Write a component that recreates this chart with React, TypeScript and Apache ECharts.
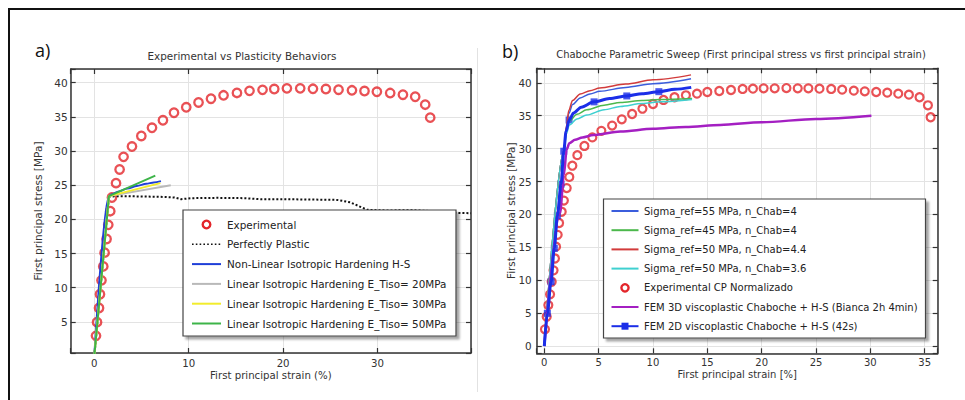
import React, { useEffect, useRef } from 'react';
import * as echarts from 'echarts';

const FONT = '"DejaVu Sans", Verdana, sans-serif';
const INK = '#333333';
const GRIDLINE = '#e3e3e3';
const RED = '#e3262b';

// ---------- Panel a data ----------
const titleA = 'Experimental vs Plasticity Behaviors';
const xNameA = 'First principal strain (%)';
const yNameA = 'First principal stress [MPa]';
const namesA = [
  'Experimental',
  'Perfectly Plastic',
  'Non-Linear Isotropic Hardening H-S',
  'Linear Isotropic Hardening E_Tiso= 20MPa',
  'Linear Isotropic Hardening E_Tiso= 30MPa',
  'Linear Isotropic Hardening E_Tiso= 50MPa',
];
const experimentalA: [number, number][] = [
  [0.18, 2.96], [0.29, 4.96], [0.5, 7.04], [0.6, 9.04], [0.76, 11.08], [0.95, 13.12],
  [1.09, 15.13], [1.3, 17.13], [1.48, 19.2], [1.69, 21.2], [1.87, 23.2], [2.3, 25.3],
  [2.68, 27.3], [3.1, 29.15], [3.99, 30.66], [4.98, 32.2], [6.11, 33.4], [7.27, 34.5],
  [8.44, 35.6], [9.74, 36.4], [11.04, 37.1], [12.36, 37.65], [13.69, 38.15], [15.11, 38.5],
  [16.44, 38.8], [17.82, 38.95], [19.06, 39.07], [20.4, 39.17], [21.81, 39.17], [23.16, 39.1],
  [24.53, 39.07], [25.87, 38.97], [27.29, 38.88], [28.62, 38.78], [29.93, 38.67], [31.34, 38.48],
  [32.69, 38.24], [33.99, 37.94], [35.05, 36.78], [35.58, 34.88],
];
const perfectlyPlastic: [number, number][] = [
  [0, 0], [1.55, 23.35], [3, 23.4], [5, 23.35], [7, 23.3], [8.5, 23.2], [9.2, 22.95],
  [10.2, 23.1], [13, 23.15], [16, 23.1], [17.6, 22.95], [20, 22.95], [23, 22.9], [25.7, 22.85],
  [27.1, 22.5], [28.9, 21.4], [31, 21.3], [33.5, 21.35], [36, 21.2], [38.4, 20.95], [39.9, 20.9],
];
const nonLinearHS: [number, number][] = [
  [0, 0], [1.5, 23.2], [1.8, 23.65], [2.5, 24.05], [3.5, 24.5], [4.5, 24.9], [5.5, 25.2], [6.3, 25.4], [7.06, 25.6],
];
const linear20: [number, number][] = [[0, 0], [1.55, 23.4], [8.1, 25.0]];
const linear30: [number, number][] = [[0, 0], [1.55, 23.4], [7.0, 25.3]];
const linear50: [number, number][] = [[0, 0], [1.55, 23.4], [6.46, 26.4]];

// ---------- Panel b data ----------
const titleB = 'Chaboche Parametric Sweep (First principal stress vs first principal strain)';
const xNameB = 'First principal strain [%]';
const yNameB = 'First principal stress [MPa]';
const namesB = [
  'Sigma_ref=55 MPa, n_Chab=4',
  'Sigma_ref=45 MPa, n_Chab=4',
  'Sigma_ref=50 MPa, n_Chab=4.4',
  'Sigma_ref=50 MPa, n_Chab=3.6',
  'Experimental CP Normalizado',
  'FEM 3D viscoplastic Chaboche + H-S (Bianca 2h 4min)',
  'FEM 2D viscoplastic Chaboche + H-S (42s)',
];
const sigma55n4: [number, number][] = [
  [0, 0], [1.8, 29.6], [2.05, 33.3], [2.25, 35.3], [2.6, 36.7], [3.3, 37.7], [4.2, 38.3],
  [5.1, 38.7], [7.5, 39.3], [10, 39.85], [13.5, 40.6],
];
const sigma45n4: [number, number][] = [
  [0, 0], [1.8, 29.6], [2.05, 32.8], [2.3, 34.2], [3, 35.2], [3.9, 35.9], [5.5, 36.6],
  [7, 37.0], [9, 37.3], [10.7, 37.45], [13.6, 37.6],
];
const sigma50n44: [number, number][] = [
  [0, 0], [1.8, 29.6], [2.05, 33.6], [2.25, 35.8], [2.6, 37.3], [3.3, 38.3], [4.2, 38.8],
  [5.1, 39.2], [7.5, 39.8], [10, 40.45], [13.5, 41.2],
];
const sigma50n36: [number, number][] = [
  [0, 0], [1.8, 29.6], [2.05, 32.3], [2.3, 33.6], [3, 34.5], [3.9, 35.1], [5.5, 35.9],
  [7, 36.4], [9, 36.85], [10.7, 37.1], [13.6, 37.45],
];
const experimentalB: [number, number][] = [
  [0.06, 2.54], [0.22, 4.45], [0.37, 6.23], [0.53, 7.86], [0.68, 9.77], [0.85, 11.5],
  [0.98, 13.3], [1.08, 15.1], [1.23, 16.9], [1.36, 18.7], [1.6, 20.4], [1.8, 22.1],
  [2.06, 24.0], [2.3, 25.7], [2.58, 27.4], [3.04, 29.0], [3.69, 30.4], [4.42, 31.7],
  [5.25, 32.7], [6.24, 33.5], [7.13, 34.45], [8.08, 35.26], [9.03, 36.06], [10.0, 36.78],
  [10.97, 37.39], [11.98, 37.8], [13.03, 38.1], [14.05, 38.35], [15.0, 38.6], [16.1, 38.75],
  [17.18, 38.9], [18.25, 39.06], [19.2, 39.1], [20.18, 39.16], [21.2, 39.16], [22.28, 39.2],
  [23.32, 39.16], [24.3, 39.16], [25.32, 39.1], [26.4, 39.06], [27.41, 38.95], [28.48, 38.8],
  [29.49, 38.7], [30.54, 38.6], [31.56, 38.5], [32.57, 38.34], [33.55, 38.19], [34.53, 37.8],
  [35.3, 36.58], [35.55, 34.76],
];
const fem3d: [number, number][] = [
  [0, 0], [1.45, 20.2], [1.8, 26], [2.06, 29.9], [2.3, 30.8], [2.83, 31.35], [3.5, 31.7],
  [4.52, 32.05], [7, 32.6], [10, 33.0], [13, 33.3], [16.2, 33.6], [20, 34.0], [25, 34.5], [30.1, 35.0],
];
const fem2dCurve: [number, number][] = [
  [0, 0], [0.28, 4.97], [0.62, 9.77], [0.92, 14.85], [1.2, 19.8], [1.54, 24.6], [1.79, 29.6],
  [2.0, 32.6], [2.28, 34.35], [2.7, 35.4], [3.4, 36.3], [4.58, 37.1], [6, 37.6], [7.59, 38.0],
  [9, 38.35], [10.54, 38.65], [12, 39.0], [13.52, 39.3],
];
const fem2dMarkers: [number, number][] = [
  [0.28, 4.97], [0.62, 9.77], [0.92, 14.85], [1.2, 19.8], [1.54, 24.6], [1.79, 29.6],
  [2.28, 34.35], [4.58, 37.1], [7.59, 38.0], [10.54, 38.65],
];

const COLORS_A = ['#1f3fd8', '#b9b9b9', '#f2ec2c', '#3db449'];
const COLORS_B = {
  s55: '#3b5ddc', s45: '#4cb84c', s44: '#d23b3b', s36: '#3fd0d0', mag: '#a41fc2', fem2d: '#1b2ee8',
};

function valueAxis(p: {
  grid: number; min: number; max: number; split: number; step: number; pos: string;
  name?: string; nameGap?: number; fs: number; margin: number; secondary?: boolean;
}) {
  return {
    type: 'value', gridIndex: p.grid, min: p.min, max: p.max, splitNumber: p.split, position: p.pos,
    axisLine: { show: true, onZero: false, lineStyle: { color: INK, width: 1.5 } },
    axisTick: { show: true, inside: true, length: 5, lineStyle: { color: INK, width: 1.2 } },
    axisLabel: {
      show: !p.secondary, margin: p.margin, color: INK, fontSize: p.fs, fontFamily: FONT,
      formatter: (v: number) => (Math.abs(v / p.step - Math.round(v / p.step)) < 1e-6 ? String(Math.round(v)) : ''),
    },
    splitLine: { show: !p.secondary, lineStyle: { color: GRIDLINE, width: 1 } },
    name: p.secondary ? '' : p.name,
    nameLocation: 'middle', nameGap: p.nameGap, nameMoveOverlap: false,
    nameTextStyle: { color: INK, fontSize: p.fs, fontFamily: FONT },
  };
}

const ZL = 100;
function txt(text: string, x: number, y: number, size: number, align = 'left', family = FONT, fill = '#222') {
  return {
    type: 'text', x, y, silent: true, z: ZL + 2,
    style: { text, fontSize: size, fontFamily: family, fill, align, textAlign: align, verticalAlign: 'middle', textVerticalAlign: 'middle' },
  };
}
function hline(x1: number, x2: number, y: number, color: string, width: number, dash?: number[]) {
  return { type: 'line', silent: true, z: ZL + 1, shape: { x1, y1: y, x2, y2: y }, style: { stroke: color, lineWidth: width, lineDash: dash } };
}

export default function App() {
  const ref = useRef<HTMLDivElement>(null);
  useEffect(() => {
    document.body.style.margin = '0';
    const chart = echarts.init(ref.current!, null, { renderer: 'svg' });

    const lineSeries = (name: string, data: [number, number][], color: string, width: number, xi: number, smooth = false, dash?: any) => ({
      type: 'line', name, data, xAxisIndex: xi, yAxisIndex: xi, showSymbol: false, symbol: 'none',
      smooth: smooth ? 0.3 : false, smoothMonotone: 'x',
      lineStyle: { color, width, type: dash || 'solid' }, itemStyle: { color },
    });
    const circles = (name: string, data: [number, number][], xi: number, size: number, bw: number) => ({
      type: 'scatter', name, data, xAxisIndex: xi, yAxisIndex: xi, symbol: 'circle', symbolSize: size,
      itemStyle: { color: 'rgba(255,255,255,0)', borderColor: RED, borderWidth: bw },
    });

    // legends (drawn as graphic)
    const legA: any[] = [];
    const lxA = 183, lyA = 210;
    legA.push({ type: 'rect', silent: true, z: ZL, shape: { x: lxA, y: lyA, width: 273, height: 126 },
      style: { fill: '#fff', stroke: '#444', lineWidth: 1.2, shadowBlur: 2, shadowOffsetX: 3, shadowOffsetY: 3, shadowColor: 'rgba(0,0,0,0.35)' } });
    const rowsA = [224.5, 244.3, 264.1, 283.9, 303.7, 323.5];
    legA.push({ type: 'circle', silent: true, z: ZL + 1, shape: { cx: 206.5, cy: rowsA[0], r: 3.8 }, style: { fill: 'none', stroke: RED, lineWidth: 2.4 } });
    legA.push(hline(192, 221, rowsA[1], '#111', 1.6, [1.6, 2.2]));
    legA.push(hline(192, 221, rowsA[2], COLORS_A[0], 2));
    legA.push(hline(192, 221, rowsA[3], COLORS_A[1], 2));
    legA.push(hline(192, 221, rowsA[4], COLORS_A[2], 2));
    legA.push(hline(192, 221, rowsA[5], COLORS_A[3], 2));
    namesA.forEach((n, i) => legA.push(txt(n, 227, rowsA[i], 10.4)));

    const legB: any[] = [];
    legB.push({ type: 'rect', silent: true, z: ZL, shape: { x: 603.5, y: 199, width: 322, height: 139 },
      style: { fill: '#fff', stroke: '#444', lineWidth: 1.2, shadowBlur: 2, shadowOffsetX: 3, shadowOffsetY: 3, shadowColor: 'rgba(0,0,0,0.35)' } });
    const rowsB = [211, 230.2, 249.4, 268.6, 287.8, 307, 326.2];
    legB.push(hline(611.5, 638.5, rowsB[0], COLORS_B.s55, 2));
    legB.push(hline(611.5, 638.5, rowsB[1], COLORS_B.s45, 2));
    legB.push(hline(611.5, 638.5, rowsB[2], COLORS_B.s44, 2));
    legB.push(hline(611.5, 638.5, rowsB[3], COLORS_B.s36, 2));
    legB.push({ type: 'circle', silent: true, z: ZL + 1, shape: { cx: 625, cy: rowsB[4], r: 3.6 }, style: { fill: 'none', stroke: RED, lineWidth: 2.4 } });
    legB.push(hline(611.5, 638.5, rowsB[5], COLORS_B.mag, 2));
    legB.push(hline(611.5, 638.5, rowsB[6], COLORS_B.fem2d, 2));
    legB.push({ type: 'rect', silent: true, z: ZL + 2, shape: { x: 621.5, y: rowsB[6] - 3.5, width: 7, height: 7 }, style: { fill: COLORS_B.fem2d } });
    namesB.forEach((n, i) => legB.push(txt(n, 644, rowsB[i], 10)));

    chart.setOption({
      animation: false,
      backgroundColor: '#ffffff',
      grid: [
        { left: 70.7, top: 69, width: 400.3, height: 284, outerBoundsMode: 'none', containLabel: false },
        { left: 536.7, top: 68.3, width: 401, height: 285, outerBoundsMode: 'none', containLabel: false },
      ],
      xAxis: [
        valueAxis({ grid: 0, min: -2.5, max: 39.9, split: 4, step: 10, pos: 'bottom', name: xNameA, nameGap: 17, fs: 10.2, margin: 5 }),
        valueAxis({ grid: 0, min: -2.5, max: 39.9, split: 4, step: 10, pos: 'top', fs: 10.2, margin: 5, secondary: true }),
        valueAxis({ grid: 1, min: -0.7, max: 36.2, split: 7, step: 5, pos: 'bottom', name: xNameB, nameGap: 16, fs: 10, margin: 4 }),
        valueAxis({ grid: 1, min: -0.7, max: 36.2, split: 7, step: 5, pos: 'top', fs: 10, margin: 4, secondary: true }),
      ],
      yAxis: [
        valueAxis({ grid: 0, min: 0.45, max: 42, split: 8, step: 5, pos: 'left', name: yNameA, nameGap: 27.5, fs: 10.6, margin: 3 }),
        valueAxis({ grid: 0, min: 0.45, max: 42, split: 8, step: 5, pos: 'right', fs: 10.6, margin: 3, secondary: true }),
        valueAxis({ grid: 1, min: -1.1, max: 42.2, split: 8, step: 5, pos: 'left', name: yNameB, nameGap: 20.5, fs: 10.4, margin: 5 }),
        valueAxis({ grid: 1, min: -1.1, max: 42.2, split: 8, step: 5, pos: 'right', fs: 10.4, margin: 5, secondary: true }),
      ],
      series: [
        circles(namesA[0], experimentalA, 0, 8.5, 2.3),
        lineSeries(namesA[1], perfectlyPlastic, '#111111', 2, 0, false, [2, 2]),
        lineSeries(namesA[2], nonLinearHS, COLORS_A[0], 2, 0, true),
        lineSeries(namesA[3], linear20, COLORS_A[1], 2, 0),
        lineSeries(namesA[4], linear30, COLORS_A[2], 2, 0),
        lineSeries(namesA[5], linear50, COLORS_A[3], 2, 0),

        lineSeries(namesB[0], sigma55n4, COLORS_B.s55, 1.5, 2, true),
        lineSeries(namesB[1], sigma45n4, COLORS_B.s45, 1.5, 2, true),
        lineSeries(namesB[2], sigma50n44, COLORS_B.s44, 1.5, 2, true),
        lineSeries(namesB[3], sigma50n36, COLORS_B.s36, 1.5, 2, true),
        circles(namesB[4], experimentalB, 2, 8, 2.2),
        lineSeries(namesB[5], fem3d, COLORS_B.mag, 2.5, 2, true),
        lineSeries(namesB[6], fem2dCurve, COLORS_B.fem2d, 3, 2, true),
        {
          type: 'scatter', name: namesB[6] + ' markers', data: fem2dMarkers, xAxisIndex: 2, yAxisIndex: 2,
          symbol: 'rect', symbolSize: 7, itemStyle: { color: COLORS_B.fem2d },
        },
      ],
      graphic: [
        { type: 'rect', silent: true, z: ZL, shape: { x: 9, y: 9, width: 1000, height: 500 }, style: { fill: 'none', stroke: '#111', lineWidth: 2 } },
        { type: 'line', silent: true, z: ZL, shape: { x1: 477.5, y1: 48, x2: 477.5, y2: 392 }, style: { stroke: '#e2e2e2', lineWidth: 1 } },
        txt('a)', 35, 50, 18, 'left', '"Open Sans", sans-serif', '#111'),
        txt('b)', 502, 51, 18, 'left', '"Open Sans", sans-serif', '#111'),
        txt(titleA, 242, 56, 10.4, 'center', FONT, '#333'),
        txt(titleB, 741, 54.5, 10, 'center', FONT, '#333'),
        ...legA,
        ...legB,
      ],
    });
    return () => chart.dispose();
  }, []);
  return <div ref={ref} style={{ width: 965, height: 400 }} />;
}
